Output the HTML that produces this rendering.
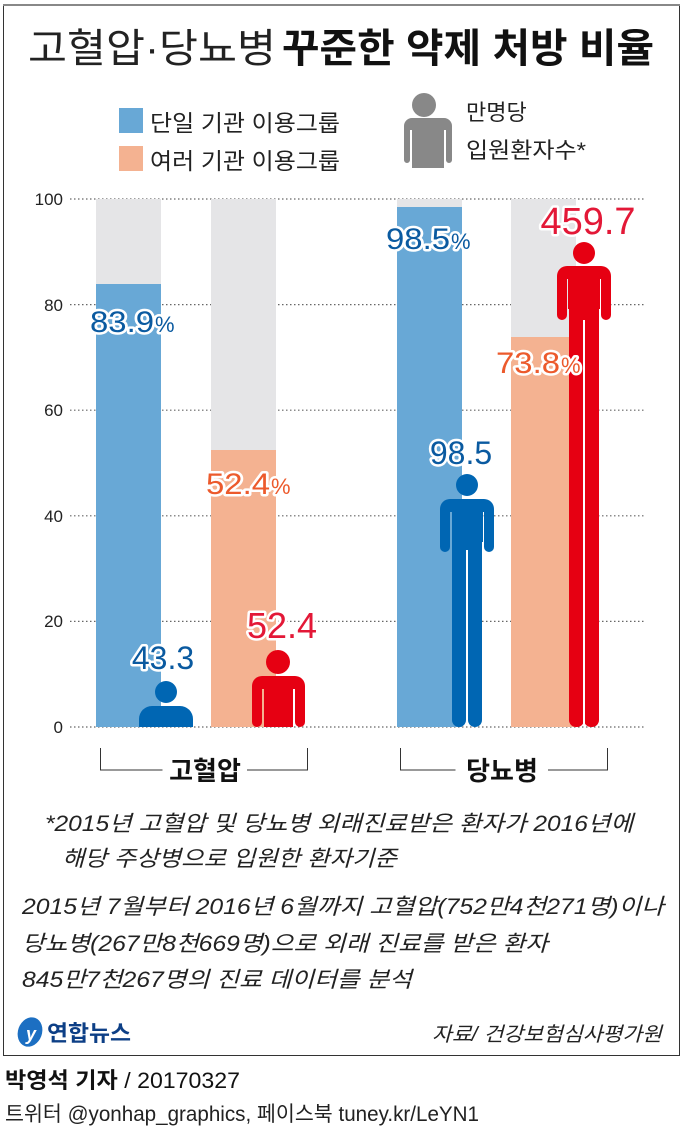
<!DOCTYPE html>
<html><head><meta charset="utf-8"><style>
html,body{margin:0;padding:0;background:#fff;}
svg{display:block;}
text{font-family:"Liberation Sans","Noto Sans CJK KR",sans-serif;}
.h{paint-order:stroke;stroke:#fff;stroke-width:5px;stroke-linejoin:round;}
</style></head><body>
<svg width="683" height="1129" viewBox="0 0 683 1129" xmlns="http://www.w3.org/2000/svg">
<rect x="3.5" y="5.5" width="676" height="1050" fill="#fff" stroke="#333" stroke-width="1"/>
<line x1="3" y1="5" x2="680" y2="5" stroke="#888" stroke-width="2"/>
<text x="28" y="62" font-size="40" fill="#222" textLength="248" lengthAdjust="spacingAndGlyphs">고혈압·당뇨병</text>
<text x="282" y="62" font-size="40" font-weight="bold" fill="#111" textLength="372" lengthAdjust="spacingAndGlyphs">꾸준한 약제 처방 비율</text>
<rect x="119" y="108" width="24" height="25" fill="#68a8d6"/>
<text x="150" y="131" font-size="23" fill="#222" textLength="190" lengthAdjust="spacingAndGlyphs">단일 기관 이용그룹</text>
<rect x="119" y="146" width="24" height="25" fill="#f4b291"/>
<text x="150" y="169" font-size="23" fill="#222" textLength="190" lengthAdjust="spacingAndGlyphs">여러 기관 이용그룹</text>
<g fill="#888">
<circle cx="424" cy="105" r="12"/>
<path d="M404 118 h40 a8 8 0 0 1 8 8 v34 a3 3 0 0 1 -6 0 v-30 h-2 v38 h-32 v-38 h-2 v30 a3 3 0 0 1 -6 0 v-34 a8 8 0 0 1 8 -8z"/>
</g>
<text x="466" y="120" font-size="22" fill="#222">만명당</text>
<text x="466" y="158" font-size="22" fill="#222" textLength="120" lengthAdjust="spacingAndGlyphs">입원환자수*</text>
<g stroke="#666" stroke-width="1.2" stroke-dasharray="1.5 2.5">
<line x1="70" y1="199" x2="645" y2="199"/>
<line x1="70" y1="304.6" x2="645" y2="304.6"/>
<line x1="70" y1="410.2" x2="645" y2="410.2"/>
<line x1="70" y1="515.8" x2="645" y2="515.8"/>
<line x1="70" y1="621.4" x2="645" y2="621.4"/>
<line x1="70" y1="727" x2="645" y2="727"/>
</g>
<g font-size="17" fill="#222" text-anchor="end">
<text x="63" y="205">100</text><text x="63" y="311">80</text><text x="63" y="416">60</text>
<text x="63" y="522">40</text><text x="63" y="627">20</text><text x="63" y="733">0</text>
</g>
<g fill="#e5e5e7">
<rect x="96" y="199" width="65" height="528"/><rect x="211" y="199" width="65" height="528"/>
<rect x="397" y="199" width="65" height="528"/><rect x="511" y="199" width="65" height="528"/>
</g>
<rect x="96" y="284" width="65" height="443" fill="#68a8d6"/>
<rect x="211" y="450" width="65" height="277" fill="#f4b291"/>
<rect x="397" y="207" width="65" height="520" fill="#68a8d6"/>
<rect x="511" y="337" width="65" height="390" fill="#f4b291"/>
<g fill="#0066b3">
<circle cx="166" cy="692" r="11"/>
<path d="M152 706 h28 a13 13 0 0 1 13 13 v8 h-54 v-8 a13 13 0 0 1 13 -13z"/>
</g>
<g fill="#e60012">
<circle cx="278" cy="662" r="12"/>
<path d="M262 676 h33 a10 10 0 0 1 10 10 v36 a5 5 0 0 1 -10 0 v-33 h-2 v38 h-29 v-38 h-2 v33 a5 5 0 0 1 -10 0 v-36 a10 10 0 0 1 10 -10z"/>
</g>
<!-- blue man group2 -->
<g fill="#0066b3">
<circle cx="467" cy="485" r="11"/>
<path d="M450 499 h34 a10 10 0 0 1 10 10 v38 a5 5 0 0 1 -10 0 v-35 h-1 v30 h-31 v-30 h-2 v35 a5 5 0 0 1 -10 0 v-38 a10 10 0 0 1 10 -10z"/>
<rect x="452" y="530" width="14" height="197" rx="7"/>
<rect x="468" y="530" width="14" height="197" rx="7"/>
<rect x="452" y="530" width="30" height="20"/>
</g>
<line x1="467" y1="552" x2="467" y2="724" stroke="#fff" stroke-width="2"/>
<!-- red man group2 -->
<g fill="#e60012">
<circle cx="584" cy="253" r="11"/>
<path d="M567 266 h34 a10 10 0 0 1 10 10 v39 a5 5 0 0 1 -10 0 v-36 h-1 v30 h-32 v-30 h-1 v36 a5 5 0 0 1 -10 0 v-39 a10 10 0 0 1 10 -10z"/>
<rect x="569" y="300" width="15" height="427" rx="7"/>
<rect x="584" y="300" width="15" height="427" rx="7"/>
<rect x="569" y="300" width="30" height="20"/>
</g>
<line x1="584" y1="320" x2="584" y2="724" stroke="#fff" stroke-width="2"/>
<g class="h" font-size="30">
<text x="90" y="332" fill="#0a5aa0" textLength="64" lengthAdjust="spacingAndGlyphs">83.9</text>
<text x="155" y="332" fill="#0a5aa0" font-size="22">%</text>
<text x="386" y="249" fill="#0a5aa0" textLength="64" lengthAdjust="spacingAndGlyphs">98.5</text>
<text x="451" y="249" fill="#0a5aa0" font-size="22">%</text>
<text x="206" y="494" fill="#ec5a2c" textLength="64" lengthAdjust="spacingAndGlyphs">52.4</text>
<text x="271" y="494" fill="#ec5a2c" font-size="22">%</text>
<text x="496" y="373" fill="#ec5a2c" textLength="64" lengthAdjust="spacingAndGlyphs">73.8</text>
<text x="561" y="373" fill="#ec5a2c" font-size="22">%</text>
<text x="163" y="669" fill="#0a5aa0" font-size="32" text-anchor="middle">43.3</text>
<text x="282" y="638" fill="#e31837" font-size="36" text-anchor="middle">52.4</text>
<text x="461" y="464" fill="#0a5aa0" font-size="32" text-anchor="middle">98.5</text>
<text x="588" y="234" fill="#e31837" font-size="38" text-anchor="middle">459.7</text>
</g>
<g stroke="#333" stroke-width="1" fill="none">
<path d="M100.5 748 v22 h62 M247 770 h60.5 v-22"/>
<path d="M400.5 748 v22 h55 M548 770 h59.5 v-22"/>
</g>
<text x="205" y="780" font-size="26" font-weight="bold" fill="#111" text-anchor="middle">고혈압</text>
<text x="502" y="780" font-size="26" font-weight="bold" fill="#111" text-anchor="middle">당뇨병</text>
<g font-size="22" fill="#222" font-style="italic">
<text x="45" y="831" textLength="588" lengthAdjust="spacingAndGlyphs">*2015년 고혈압 및 당뇨병 외래진료받은 환자가 2016년에</text>
<text x="62" y="866" textLength="335" lengthAdjust="spacingAndGlyphs">해당 주상병으로 입원한 환자기준</text>
<text x="22" y="914" textLength="642" lengthAdjust="spacingAndGlyphs">2015년 7월부터 2016년 6월까지 고혈압(752만4천271명)이나</text>
<text x="22" y="951" textLength="526" lengthAdjust="spacingAndGlyphs">당뇨병(267만8천669명)으로 외래 진료를 받은 환자</text>
<text x="22" y="987" textLength="390" lengthAdjust="spacingAndGlyphs">845만7천267명의 진료 데이터를 분석</text>
<text x="432" y="1041" font-size="20" textLength="230" lengthAdjust="spacingAndGlyphs">자료/ 건강보험심사평가원</text>
</g>
<ellipse cx="30" cy="1032" rx="12" ry="15" fill="#1c6fc2" transform="rotate(20 30 1032)"/>
<text x="26" y="1040" font-size="18" fill="#fff" font-style="italic" font-weight="bold">y</text>
<text x="47" y="1041" font-size="22" font-weight="bold" fill="#0d3f86" textLength="84" lengthAdjust="spacingAndGlyphs">연합뉴스</text>
<text x="5" y="1088" font-size="22" fill="#111" textLength="235" lengthAdjust="spacingAndGlyphs"><tspan font-weight="bold">박영석 기자</tspan> / 20170327</text>
<text x="5" y="1121" font-size="21" fill="#222" textLength="474" lengthAdjust="spacingAndGlyphs">트위터 @yonhap_graphics, 페이스북 tuney.kr/LeYN1</text>
</svg>
</body></html>
